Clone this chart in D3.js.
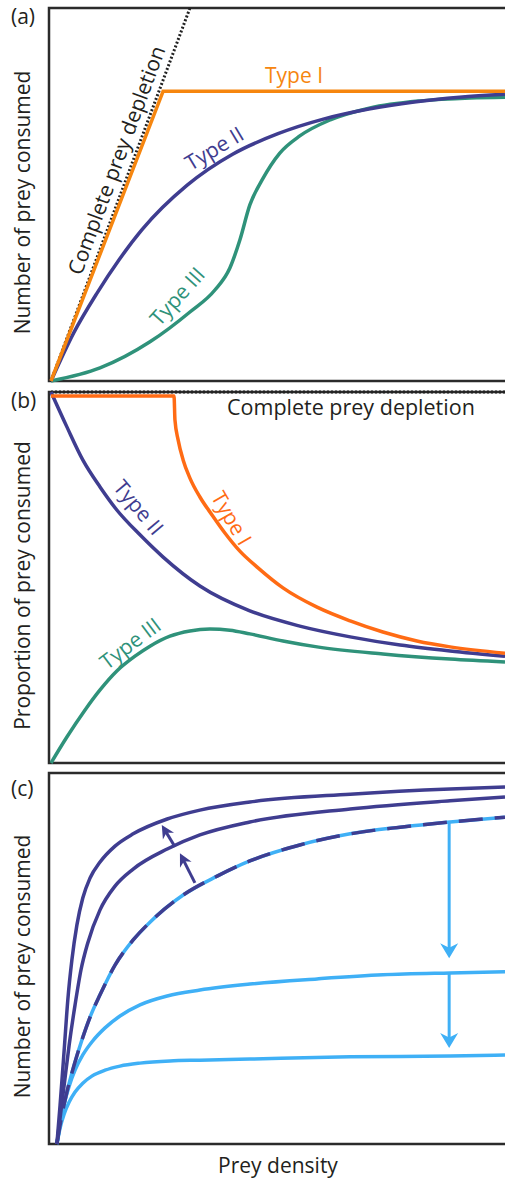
<!DOCTYPE html>
<html>
<head>
<meta charset="utf-8">
<script src="https://cdn.jsdelivr.net/npm/d3@7"></script>
<style>
    body { margin: 0; background: #fff; }
    text { font-family: "Open Sans", sans-serif; fill: #231f20; }
</style>
</head>
<body>
<script>
// values are in relative units: prey density 0-100, response 0-100
var depletionA = [[0, 0], [30.6, 100]];
var typeIA = [[0, 0], [24.7, 77.7], [100, 77.7]];
var typeIIA = [[0, 0], [5, 12.9], [10, 23.3], [15, 32.5], [20, 40.5], [30, 52.5], [40, 60.8], [50, 66.3],
    [60, 70.2], [70, 72.9], [80, 74.8], [90, 76.1], [100, 76.9]];
var typeIIIA = [[0, 0], [10.8, 3.5], [21.8, 10.5], [30.6, 18.5], [36.1, 24.4], [39.4, 30.3], [41.6, 37.8],
    [43.8, 47.2], [46.5, 53.9], [50.4, 61.1], [54.8, 65.7], [61.5, 70.0], [70.3, 73.2], [81.3, 75.1],
    [92.3, 75.9], [100, 76.1]];

var depletionB = [[0, 100], [100, 100]];
var typeIB = [[0, 98.9], [27.1, 98.9], [27.3, 92.5], [28.0, 87.1], [29.1, 81.7], [30.6, 76.8], [32.8, 71.7],
    [35.5, 66.8], [38.3, 62.0], [41.6, 57.1], [45.6, 52.6], [51.1, 47.2], [58.6, 42.0], [65.9, 38.3],
    [73.1, 35.3], [80.6, 32.9], [87.9, 31.3], [100, 29.6]];
var typeIIB = [[0, 100], [3.5, 90.6], [7.0, 81.7], [10.8, 74.4], [14.5, 68.2], [19.6, 61.5], [24.7, 55.5],
    [32.8, 47.7], [43.8, 41.0], [54.8, 36.9], [65.9, 34.0], [76.9, 31.8], [87.9, 30.2], [100, 28.8]];
var typeIIIB = [[0, 0], [3.5, 7.0], [7.5, 14.3], [10.8, 19.7], [14.5, 24.8], [18.5, 28.8], [21.8, 31.5],
    [26.2, 34.2], [30.6, 35.6], [35.0, 36.1], [39.4, 35.8], [43.8, 34.8], [51.1, 32.9], [58.6, 31.3],
    [73.1, 29.4], [87.9, 28.0], [100, 27.2]];

var curveC1 = [[1.3, 0], [2.0, 10.5], [2.9, 25.3], [3.7, 38.8], [4.6, 49.6], [5.7, 59.0], [7.0, 66.3],
    [8.6, 71.7], [10.8, 76.0], [14.1, 80.3], [18.1, 83.6], [25.6, 87.6], [32.8, 90.0], [43.8, 92.2],
    [65.9, 94.3], [87.9, 95.7], [100, 96.2]];
var curveC2 = [[1.3, 0], [2.0, 7.0], [2.9, 15.9], [4.0, 26.7], [5.3, 37.5], [6.6, 46.9], [8.1, 54.2],
    [10.8, 63.1], [14.1, 69.5], [18.1, 74.1], [25.6, 79.5], [32.8, 83.3], [43.8, 86.8], [65.9, 90.3],
    [87.9, 92.5], [100, 93.5]];
var curveC3 = [[1.3, 0], [2.4, 7.8], [3.5, 14.0], [5.1, 21.3], [6.8, 28.0], [8.8, 34.8], [10.8, 40.2],
    [14.1, 48.2], [18.1, 55.0], [21.8, 59.8], [29.1, 67.1], [36.6, 72.2], [43.8, 76.3], [54.8, 80.6],
    [65.9, 83.6], [76.9, 85.4], [87.9, 86.8], [100, 88.1]];
var curveC4 = [[1.3, 0], [2.0, 5.4], [2.9, 10.8], [4.0, 15.6], [5.3, 19.9], [7.0, 24.0], [9.0, 27.5],
    [11.9, 31.3], [15.2, 34.5], [19.6, 37.5], [25.6, 39.9], [32.8, 41.5], [43.8, 43.1], [58.6, 44.5],
    [73.1, 45.6], [87.9, 46.1], [100, 46.4]];
var curveC5 = [[1.3, 0], [2.0, 4.3], [2.9, 8.1], [4.0, 11.3], [5.3, 14.0], [7.0, 16.4], [9.0, 18.3],
    [11.9, 19.9], [15.2, 21.0], [19.6, 21.8], [26.2, 22.4], [32.8, 22.6], [43.8, 22.9], [65.9, 23.5],
    [87.9, 23.7], [100, 24.0]];

// arrows: [from, to]
var upArrows = [[[31.7, 70.4], [28.4, 78.4]], [[27.3, 80.1], [24.4, 86.0]]];
var downArrows = [[[87.7, 86.5], [87.7, 50.1]], [[87.7, 46.1], [87.7, 25.9]]];

var orangeA = "#f6860f", orangeB = "#ff6b14", navy = "#3f3d90", green = "#2f927a", sky = "#3fb0f6";

var svg = d3.select("body").append("svg")
    .attr("width", 505)
    .attr("height", 1180);

var x = d3.scaleLinear().domain([0, 100]).range([51, 505]);
var yA = d3.scaleLinear().domain([0, 100]).range([381, 8]);
var yB = d3.scaleLinear().domain([0, 100]).range([763, 392]);
var yC = d3.scaleLinear().domain([0, 100]).range([1144, 773]);

function drawFrame(y, label, yTitle, labelY) {
    var top = y.range()[1], bottom = y.range()[0];
    svg.append("path")
        .attr("d", "M520," + top + "H49V" + bottom + "H520")
        .attr("fill", "none")
        .attr("stroke", "#2b2b2b")
        .attr("stroke-width", 2.5);
    svg.append("text")
        .attr("x", 11)
        .attr("y", labelY)
        .style("font-size", "21px")
        .text(label);
    svg.append("text")
        .attr("transform", "translate(30," + ((top + bottom) / 2 + 8) + ") rotate(-90)")
        .attr("text-anchor", "middle")
        .style("font-size", "21px")
        .text(yTitle);
}

function drawCurve(data, y, color, width, dash) {
    var line = d3.line()
        .x(function(d) { return x(d[0]); })
        .y(function(d) { return y(d[1]); })
        .curve(d3.curveMonotoneX);
    var p = svg.append("path")
        .attr("d", line(data))
        .attr("fill", "none")
        .attr("stroke", color)
        .attr("stroke-width", width)
        .attr("stroke-linejoin", "round");
    if (dash) p.attr("stroke-dasharray", dash);
    return p;
}

function curveLabel(txt, cx, cy, angle, color) {
    svg.append("text")
        .attr("transform", "translate(" + cx + "," + cy + ") rotate(" + angle + ")")
        .attr("text-anchor", "middle")
        .attr("dominant-baseline", "central")
        .style("font-size", "21px")
        .style("fill", color)
        .text(txt);
}

function drawArrow(a, y, color, len, wid) {
    var x1 = x(a[0][0]), y1 = y(a[0][1]), x2 = x(a[1][0]), y2 = y(a[1][1]);
    var ang = Math.atan2(y2 - y1, x2 - x1);
    var back = len * 0.6;
    svg.append("line")
        .attr("x1", x1).attr("y1", y1)
        .attr("x2", x2 - back * Math.cos(ang)).attr("y2", y2 - back * Math.sin(ang))
        .attr("stroke", color)
        .attr("stroke-width", 3);
    svg.append("path")
        .attr("d", "M0,0L" + (-len) + "," + (wid / 2) + "L" + (-len * 0.7) + ",0L" + (-len) + "," + (-wid / 2) + "Z")
        .attr("transform", "translate(" + x2 + "," + y2 + ") rotate(" + (ang * 180 / Math.PI) + ")")
        .attr("fill", color);
}

// panel (a)
drawFrame(yA, "(a)", "Number of prey consumed", 24);
drawCurve(depletionA, yA, "#222", 3, "2,2");
drawCurve(typeIIIA, yA, green, 3.5);
drawCurve(typeIIA, yA, navy, 3.5);
svg.append("path")
    .attr("d", d3.line().x(function(d) { return x(d[0]); }).y(function(d) { return yA(d[1]); })(typeIA))
    .attr("fill", "none")
    .attr("stroke", orangeA)
    .attr("stroke-width", 3.5);
svg.append("text")
    .attr("x", 265)
    .attr("y", 83)
    .style("font-size", "21px")
    .style("fill", orangeA)
    .text("Type I");
curveLabel("Type II", 214, 148, -31, navy);
curveLabel("Type III", 177, 296, -48, green);
curveLabel("Complete prey depletion", 116, 160, -69.6, "#231f20");

// panel (b)
drawFrame(yB, "(b)", "Proportion of prey consumed", 408);
drawCurve(depletionB, yB, "#222", 3, "2,2");
drawCurve(typeIIIB, yB, green, 3.5);
drawCurve(typeIIB, yB, navy, 3.5);
drawCurve(typeIB, yB, orangeB, 3.5);
svg.append("text")
    .attr("x", 227)
    .attr("y", 415)
    .style("font-size", "21.5px")
    .text("Complete prey depletion");
curveLabel("Type II", 139, 507, 50, navy);
curveLabel("Type I", 232, 518, 60, orangeB);
curveLabel("Type III", 130, 643, -37, green);

// panel (c)
drawFrame(yC, "(c)", "Number of prey consumed", 796);
drawCurve(curveC5, yC, sky, 3.5);
drawCurve(curveC4, yC, sky, 3.5);
drawCurve(curveC3, yC, sky, 3.5);
drawCurve(curveC3, yC, navy, 3.5, "24,12");
drawCurve(curveC2, yC, navy, 3.5);
drawCurve(curveC1, yC, navy, 3.5);
upArrows.forEach(function(a) { drawArrow(a, yC, navy, 13, 13); });
downArrows.forEach(function(a) { drawArrow(a, yC, sky, 15, 18); });

svg.append("text")
    .attr("x", 278)
    .attr("y", 1173)
    .attr("text-anchor", "middle")
    .style("font-size", "21px")
    .text("Prey density");
</script>
</body>
</html>
